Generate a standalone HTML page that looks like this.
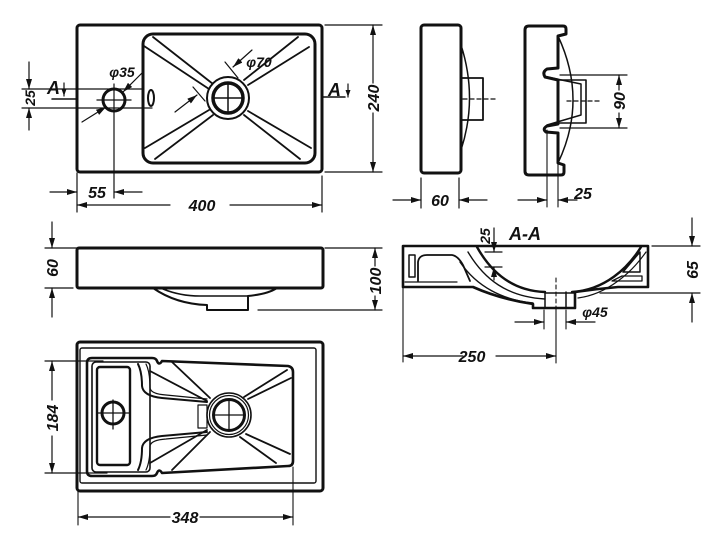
<!DOCTYPE html>
<html><head><meta charset="utf-8"><style>
html,body{margin:0;padding:0;background:#fff;}
svg{display:block;}
text{font-family:"Liberation Sans",Arial,sans-serif;font-weight:bold;font-style:italic;fill:#111;}
</style></head><body>
<svg width="720" height="548" viewBox="0 0 720 548" xmlns="http://www.w3.org/2000/svg">
<defs>
<marker id="ah" viewBox="0 0 10 6" refX="10" refY="3" markerWidth="10" markerHeight="6" markerUnits="userSpaceOnUse" orient="auto"><path d="M0,0 L10,3 L0,6 z" fill="#111"/></marker>
<marker id="as" viewBox="0 0 7 5" refX="7" refY="2.5" markerWidth="7" markerHeight="5" markerUnits="userSpaceOnUse" orient="auto"><path d="M0,0 L7,2.5 L0,5 z" fill="#111"/></marker>
</defs>
<rect width="720" height="548" fill="#fff"/>
<g fill="none" stroke="#111" stroke-linecap="round" stroke-linejoin="round">

<!-- ===== TOP VIEW ===== -->
<rect x="77" y="25" width="245" height="147" rx="3" stroke-width="3"/>
<rect x="143" y="34" width="172" height="129" rx="10" stroke-width="3"/>
<g stroke-width="1.8">
<line x1="153" y1="37" x2="213" y2="84"/><line x1="144" y1="46" x2="209" y2="89"/>
<line x1="298" y1="37" x2="244" y2="80"/><line x1="309" y1="47" x2="248" y2="85"/>
<line x1="145" y1="148" x2="209" y2="110"/><line x1="155" y1="159" x2="213" y2="115"/>
<line x1="300" y1="159" x2="244" y2="115"/><line x1="311" y1="148" x2="248" y2="111"/>
</g>
<circle cx="228" cy="98" r="21" fill="#fff" stroke-width="2"/>
<circle cx="228" cy="98" r="15" stroke-width="3.5"/>
<line x1="214" y1="98" x2="242" y2="98" stroke-width="1.5"/><line x1="228" y1="84" x2="228" y2="112" stroke-width="1.5"/>
<!-- tap hole -->
<circle cx="114" cy="100" r="11" stroke-width="3"/>
<line x1="97" y1="100" x2="131" y2="100" stroke-width="1.3"/>
<line x1="114" y1="84" x2="114" y2="198" stroke-width="1.2"/>
<ellipse cx="151" cy="98" rx="3" ry="8" stroke-width="2"/>
<!-- section lines -->
<line x1="22" y1="89" x2="143" y2="89" stroke-width="1.2"/>
<line x1="22" y1="108" x2="152" y2="108" stroke-width="1.2"/>
<line x1="52" y1="99" x2="77" y2="99" stroke-width="1.5"/>
<line x1="64" y1="83" x2="64" y2="96" stroke-width="1.2" marker-end="url(#as)"/>
<line x1="322" y1="97" x2="345" y2="97" stroke-width="1.5"/>
<line x1="348" y1="84" x2="348" y2="97" stroke-width="1.2" marker-end="url(#as)"/>
<!-- dim 25 -->
<line x1="29" y1="62" x2="29" y2="89" stroke-width="1.2" marker-end="url(#ah)"/>
<line x1="29" y1="130" x2="29" y2="108" stroke-width="1.2" marker-end="url(#ah)"/>
<!-- phi35 -->
<line x1="142" y1="73" x2="123" y2="92" stroke-width="1.2" marker-end="url(#ah)"/>
<line x1="82" y1="122" x2="106" y2="107" stroke-width="1.2" marker-end="url(#ah)"/>
<!-- phi70 -->
<line x1="225" y1="62" x2="238" y2="78" stroke-width="1.2"/>
<line x1="252" y1="50" x2="233" y2="67" stroke-width="1.2" marker-end="url(#ah)"/>
<line x1="193" y1="87" x2="205" y2="101" stroke-width="1.2"/>
<line x1="175" y1="112" x2="197" y2="95" stroke-width="1.2" marker-end="url(#ah)"/>
<!-- dim 240 -->
<line x1="325" y1="25" x2="382" y2="25" stroke-width="1.2"/>
<line x1="325" y1="172" x2="382" y2="172" stroke-width="1.2"/>
<line x1="373" y1="83" x2="373" y2="25" stroke-width="1.2" marker-end="url(#ah)"/>
<line x1="373" y1="113" x2="373" y2="172" stroke-width="1.2" marker-end="url(#ah)"/>
<!-- dim 55 / 400 -->
<line x1="77" y1="173" x2="77" y2="212" stroke-width="1.2"/>
<line x1="322" y1="176" x2="322" y2="212" stroke-width="1.2"/>
<line x1="50" y1="192" x2="77" y2="192" stroke-width="1.2" marker-end="url(#ah)"/>
<line x1="142" y1="192" x2="114" y2="192" stroke-width="1.2" marker-end="url(#ah)"/>
<line x1="170" y1="205" x2="77" y2="205" stroke-width="1.2" marker-end="url(#ah)"/>
<line x1="230" y1="205" x2="322" y2="205" stroke-width="1.2" marker-end="url(#ah)"/>

<!-- ===== SIDE VIEW 1 ===== -->
<rect x="421" y="25" width="40" height="148" rx="3" stroke-width="3"/>
<path d="M461,45 Q478,98 461,150" stroke-width="1.5"/>
<path d="M461,78 H483 V120 H461" stroke-width="1.8"/>
<line x1="463" y1="99" x2="497" y2="99" stroke-width="1.3" stroke-dasharray="4,3"/>
<line x1="421" y1="178" x2="421" y2="208" stroke-width="1.2"/>
<line x1="459" y1="178" x2="459" y2="208" stroke-width="1.2"/>
<line x1="393" y1="200" x2="421" y2="200" stroke-width="1.2" marker-end="url(#ah)"/>
<line x1="487" y1="200" x2="459" y2="200" stroke-width="1.2" marker-end="url(#ah)"/>

<!-- ===== SIDE VIEW 2 ===== -->
<path d="M525,30 Q525,26 529,26 H563 Q566,26 566,29 V34 L558,36 V68 L547,69 Q542,72 545,77 L558,80 V124 L547,126 Q542,129 546,132 L558,133 V163 L564,165 V172 Q564,175 561,175 H529 Q525,175 525,171 Z" stroke-width="3"/>
<path d="M558,36 Q588,100 558,163" stroke-width="1.5"/>
<path d="M558,80 H586 V123 H558" stroke-width="1.6"/>
<path d="M547,77 L581,84 V115 L547,125" stroke-width="1.5"/>
<line x1="567" y1="101" x2="600" y2="101" stroke-width="1.3" stroke-dasharray="4,3"/>
<line x1="560" y1="75" x2="627" y2="75" stroke-width="1.2"/>
<line x1="560" y1="128" x2="627" y2="128" stroke-width="1.2"/>
<line x1="619" y1="90" x2="619" y2="75" stroke-width="1.2" marker-end="url(#ah)"/>
<line x1="619" y1="113" x2="619" y2="128" stroke-width="1.2" marker-end="url(#ah)"/>
<line x1="547" y1="130" x2="547" y2="207" stroke-width="1.1"/>
<line x1="558" y1="133" x2="558" y2="207" stroke-width="1.1"/>
<line x1="518" y1="200" x2="547" y2="200" stroke-width="1.2" marker-end="url(#ah)"/>
<line x1="577" y1="200" x2="558" y2="200" stroke-width="1.2" marker-end="url(#ah)"/>

<!-- ===== FRONT VIEW ===== -->
<rect x="77" y="248" width="246" height="40" rx="2" stroke-width="3"/>
<path d="M153,288 Q176,304 207,305 V310 H248 V296 Q268,294 277,288" stroke-width="2"/>
<path d="M163,289 Q180,296 200,296 H248" stroke-width="1.6"/>
<line x1="45" y1="248" x2="77" y2="248" stroke-width="1.2"/>
<line x1="45" y1="288" x2="73" y2="288" stroke-width="1.2"/>
<line x1="52" y1="222" x2="52" y2="248" stroke-width="1.2" marker-end="url(#ah)"/>
<line x1="52" y1="317" x2="52" y2="288" stroke-width="1.2" marker-end="url(#ah)"/>
<line x1="325" y1="248" x2="382" y2="248" stroke-width="1.2"/>
<line x1="258" y1="310" x2="382" y2="310" stroke-width="1.2"/>
<line x1="375" y1="266" x2="375" y2="248" stroke-width="1.2" marker-end="url(#ah)"/>
<line x1="375" y1="296" x2="375" y2="310" stroke-width="1.2" marker-end="url(#ah)"/>

<!-- ===== SECTION A-A ===== -->
<path d="M403,246 H648 V287 H618 Q596,289 575,292 V308 H533 V304 Q500,299 473,287 H403 Z" stroke-width="2.6"/>
<path d="M477,247 C491,272 512,291 545,292 M572,292 C605,290 628,268 641,247" stroke-width="2.4"/>
<path d="M468,252 C484,279 507,297 545,299" stroke-width="1.4"/>
<path d="M460,262 C477,287 503,300 533,303" stroke-width="1.4"/>
<path d="M578,298 C608,294 632,272 646,252" stroke-width="1.2"/>
<line x1="545" y1="292" x2="545" y2="308" stroke-width="1.5"/>
<line x1="566" y1="292" x2="566" y2="308" stroke-width="1.5"/>
<line x1="545" y1="293" x2="575" y2="293" stroke-width="1.5"/>
<!-- left block -->
<rect x="409" y="255" width="6" height="22" stroke-width="1.5"/>
<path d="M418,281 V262 Q419,255 427,255 H452 Q458,256 463,265 L470,281" stroke-width="1.8"/>
<line x1="405" y1="282" x2="457" y2="282" stroke-width="1.2"/>
<!-- right block -->
<path d="M640,252 L623,272 H640 Z" stroke-width="1.5"/>
<path d="M612,281 L622,276 H642 V281 Z" stroke-width="1.3"/>
<!-- center line -->
<line x1="556" y1="278" x2="556" y2="308" stroke-width="1.1" stroke-dasharray="4,3"/>
<line x1="556" y1="308" x2="556" y2="363" stroke-width="1.1"/>
<!-- dim 25 -->
<line x1="494" y1="228" x2="494" y2="252" stroke-width="1.2" marker-end="url(#ah)"/>
<line x1="494" y1="280" x2="494" y2="267" stroke-width="1.2" marker-end="url(#ah)"/>
<line x1="485" y1="252" x2="502" y2="252" stroke-width="1.2"/>
<line x1="485" y1="267" x2="502" y2="267" stroke-width="1.2"/>
<!-- dim 65 -->
<line x1="652" y1="246" x2="700" y2="246" stroke-width="1.2"/>
<line x1="600" y1="293" x2="700" y2="293" stroke-width="1.2"/>
<line x1="692" y1="218" x2="692" y2="246" stroke-width="1.2" marker-end="url(#ah)"/>
<line x1="692" y1="322" x2="692" y2="293" stroke-width="1.2" marker-end="url(#ah)"/>
<!-- phi45 -->
<line x1="544" y1="310" x2="544" y2="329" stroke-width="1.1"/>
<line x1="566" y1="310" x2="566" y2="329" stroke-width="1.1"/>
<line x1="515" y1="322" x2="544" y2="322" stroke-width="1.2" marker-end="url(#ah)"/>
<line x1="595" y1="322" x2="566" y2="322" stroke-width="1.2" marker-end="url(#ah)"/>
<!-- dim 250 -->
<line x1="403" y1="287" x2="403" y2="362" stroke-width="1.1"/>
<line x1="463" y1="356" x2="403" y2="356" stroke-width="1.2" marker-end="url(#ah)"/>
<line x1="496" y1="356" x2="556" y2="356" stroke-width="1.2" marker-end="url(#ah)"/>

<!-- ===== BOTTOM VIEW ===== -->
<rect x="77" y="342" width="246" height="149" rx="3" stroke-width="3"/>
<rect x="80" y="348" width="236" height="135" rx="2" stroke-width="1.4"/>
<path d="M92,358 H152 Q156,358 157,361 Q159,366 162,361 L288,366 Q293,367 293,372 V461 Q293,466 288,466 L162,473 Q159,468 157,473 Q156,476 152,476 H92 Q87,476 87,471 V363 Q87,358 92,358 Z" stroke-width="2.6"/>
<rect x="92" y="362" width="58" height="110" rx="4" stroke-width="1.6"/>
<rect x="97" y="367" width="33" height="98" rx="3" stroke-width="2.4"/>
<circle cx="113" cy="413" r="11" stroke-width="3"/>
<line x1="97" y1="413" x2="129" y2="413" stroke-width="1.3"/>
<line x1="113" y1="400" x2="113" y2="429" stroke-width="1.3"/>
<!-- channel -->
<path d="M138,364 Q142,372 142,386 Q143,396 162,398 L207,402" stroke-width="2"/>
<path d="M146,364 Q150,372 150,388 Q151,394 166,395 L207,399" stroke-width="1.2"/>
<path d="M138,470 Q142,462 142,448 Q143,438 162,436 L207,432" stroke-width="2"/>
<path d="M146,470 Q150,462 150,446 Q151,440 166,439 L207,435" stroke-width="1.2"/>
<rect x="198" y="405" width="9" height="23" stroke-width="1.2"/>
<g stroke-width="1.8">
<line x1="172" y1="362" x2="210" y2="398"/><line x1="150" y1="371" x2="207" y2="401"/>
<line x1="287" y1="370" x2="244" y2="397"/><line x1="291" y1="378" x2="248" y2="399"/>
<line x1="290" y1="454" x2="246" y2="434"/><line x1="276" y1="463" x2="240" y2="437"/>
<line x1="172" y1="470" x2="210" y2="432"/><line x1="150" y1="463" x2="207" y2="430"/>
</g>
<circle cx="229" cy="415" r="22" fill="#fff" stroke-width="1.6"/>
<circle cx="229" cy="415" r="19.5" stroke-width="1.2"/>
<circle cx="229" cy="415" r="15.5" stroke-width="3"/>
<line x1="215" y1="415" x2="243" y2="415" stroke-width="1.3"/>
<line x1="229" y1="401" x2="229" y2="429" stroke-width="1.3"/>
<!-- dim 184 -->
<line x1="45" y1="361" x2="103" y2="361" stroke-width="1.2"/>
<line x1="45" y1="473" x2="107" y2="473" stroke-width="1.2"/>
<line x1="52" y1="400" x2="52" y2="361" stroke-width="1.2" marker-end="url(#ah)"/>
<line x1="52" y1="436" x2="52" y2="473" stroke-width="1.2" marker-end="url(#ah)"/>
<!-- dim 348 -->
<line x1="78" y1="491" x2="78" y2="525" stroke-width="1.1"/>
<line x1="293" y1="467" x2="293" y2="525" stroke-width="1.1"/>
<line x1="170" y1="517" x2="78" y2="517" stroke-width="1.2" marker-end="url(#ah)"/>
<line x1="200" y1="517" x2="293" y2="517" stroke-width="1.2" marker-end="url(#ah)"/>
</g>

<!-- ===== TEXT ===== -->
<g font-size="16">
<text x="47" y="94" font-size="18">A</text>
<text x="328" y="96" font-size="18">A</text>
<text x="97" y="198" text-anchor="middle">55</text>
<text x="202" y="211" text-anchor="middle">400</text>
<text x="440" y="206" text-anchor="middle">60</text>
<text x="583" y="199" text-anchor="middle">25</text>
<text x="472" y="362" text-anchor="middle">250</text>
<text x="185" y="523" text-anchor="middle">348</text>
<text x="525" y="240" text-anchor="middle" font-size="18">A-A</text>
<text x="122" y="77" text-anchor="middle" font-size="14">φ35</text>
<text x="259" y="67" text-anchor="middle" font-size="14">φ70</text>
<text x="595" y="317" text-anchor="middle" font-size="14">φ45</text>
<text transform="translate(35,98) rotate(-90)" text-anchor="middle" font-size="14">25</text>
<text transform="translate(379,98) rotate(-90)" text-anchor="middle">240</text>
<text transform="translate(625,101) rotate(-90)" text-anchor="middle">90</text>
<text transform="translate(58,268) rotate(-90)" text-anchor="middle">60</text>
<text transform="translate(381,281) rotate(-90)" text-anchor="middle">100</text>
<text transform="translate(490,236) rotate(-90)" text-anchor="middle" font-size="14">25</text>
<text transform="translate(698,270) rotate(-90)" text-anchor="middle">65</text>
<text transform="translate(58,418) rotate(-90)" text-anchor="middle">184</text>
</g>
</svg>
</body></html>
